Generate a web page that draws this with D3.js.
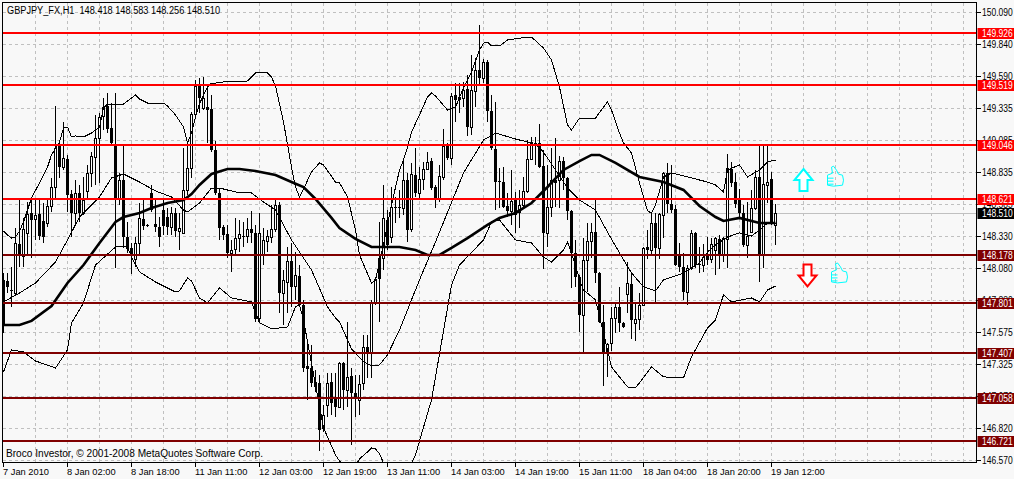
<!DOCTYPE html>
<html>
<head>
<meta charset="utf-8">
<script src="https://cdnjs.cloudflare.com/ajax/libs/d3/7.8.5/d3.min.js"></script>
<style>
  html, body { margin: 0; padding: 0; background: #f8f8f8; overflow: hidden; }
  svg { display: block; }
  text { font-family: "Liberation Sans", sans-serif; white-space: pre; }
  text.price { font-size: 10px; }
</style>
</head>
<body>
<svg id="chart"></svg>
<script>
const titleText = 'GBPJPY_FX,H1  148.418 148.583 148.256 148.510'
const copyrightText = 'Broco Investor, © 2001-2008 MetaQuotes Software Corp.'
const lastPrice = 148.510

const priceTicks = [150.090,149.840,149.590,149.335,149.085,148.835,148.585,148.330,148.080,147.830,147.575,147.325,147.070,146.820,146.570]
const timeLabels = ['7 Jan 2010','8 Jan 02:00','8 Jan 18:00','11 Jan 11:00','12 Jan 03:00','12 Jan 19:00','13 Jan 11:00','14 Jan 03:00','14 Jan 19:00','15 Jan 11:00','18 Jan 04:00','18 Jan 20:00','19 Jan 12:00']

const brightLevels = [149.926,149.519,149.046,148.621]
const darkLevels = [148.178,147.801,147.407,147.058,146.721]

const highs = [148.040,148.040,148.087,148.393,148.621,148.472,148.597,148.629,148.613,148.629,
148.589,148.613,148.786,149.351,149.069,149.226,148.967,148.692,148.770,148.731,
148.794,148.888,148.990,149.281,149.296,149.414,149.453,149.375,149.453,148.825,
149.037,148.440,148.275,148.322,148.589,148.629,148.424,148.731,148.629,148.479,
148.629,148.550,148.558,148.550,148.511,149.021,149.069,149.304,149.556,149.571,
149.579,149.500,149.438,149.076,148.707,148.417,148.417,148.299,148.472,148.456,
148.440,148.472,148.527,148.417,148.511,148.393,148.377,148.574,148.613,148.597,
148.063,148.244,148.275,148.204,148.102,147.828,147.490,147.474,147.278,147.238,
147.003,147.254,147.254,147.254,147.341,147.341,147.655,147.293,147.238,147.238,
147.553,147.553,147.828,148.008,148.440,148.731,148.534,148.715,148.637,148.692,
148.943,148.825,148.904,149.021,148.872,148.912,148.990,148.943,148.731,148.888,
149.171,149.061,149.453,149.532,149.532,149.540,149.595,149.752,149.728,149.988,
149.721,149.713,149.438,149.383,148.864,148.872,148.668,148.849,148.676,148.692,
148.794,149.084,149.108,149.108,149.210,149.006,148.888,149.021,149.100,148.959,
148.951,148.794,148.534,148.299,148.024,148.314,148.432,148.432,148.613,148.048,
147.788,147.490,147.773,147.812,147.930,147.655,148.126,148.040,147.804,147.883,
148.244,148.377,148.511,148.511,148.511,148.833,148.904,148.888,148.574,148.275,
148.197,148.102,148.377,148.361,148.244,148.267,148.322,148.314,148.322,148.338,
148.322,148.974,148.912,148.825,148.700,148.574,148.597,148.692,148.849,149.045,
149.045,149.045,148.833,148.583]

const opens = [147.985,147.977,147.906,147.882,148.267,148.173,148.354,148.511,148.464,148.503,
148.448,148.432,148.566,148.715,149.045,148.872,148.935,148.660,148.511,148.668,
148.511,148.684,148.825,148.951,149.100,149.273,149.351,149.179,149.053,148.629,
148.770,148.322,148.236,148.150,148.275,148.464,148.417,148.668,148.424,148.401,
148.534,148.479,148.401,148.511,148.369,148.354,148.692,148.864,149.288,149.516,
149.336,149.343,149.328,149.006,148.668,148.401,148.346,148.197,148.228,148.314,
148.330,148.330,148.385,148.354,147.686,148.189,148.291,148.322,148.385,148.574,
147.882,147.969,148.134,147.938,148.016,147.788,147.309,147.293,147.183,147.176,
146.822,147.003,147.183,147.058,146.987,147.333,147.121,147.231,147.097,147.042,
147.176,147.458,147.411,147.804,148.158,148.158,148.456,148.322,148.558,148.558,
148.550,148.770,148.385,148.809,148.668,148.778,148.857,148.919,148.715,148.629,
148.794,149.053,148.943,149.438,149.422,149.414,149.485,149.186,149.469,149.634,
149.571,149.697,149.312,149.014,148.762,148.754,148.566,148.527,148.613,148.519,
148.574,148.684,148.935,149.061,149.061,148.880,148.354,148.558,148.770,148.770,
148.919,148.786,148.527,148.197,148.008,147.710,148.142,148.291,148.361,148.040,
147.655,147.411,147.490,147.686,147.773,147.647,147.875,147.953,147.647,147.678,
147.788,148.244,148.220,148.432,148.236,148.495,148.825,148.581,148.542,148.173,
148.087,147.890,148.079,148.354,148.110,148.102,148.181,148.150,148.220,148.307,
148.189,148.307,148.857,148.754,148.629,148.511,148.260,148.361,148.550,148.794,
148.181,148.731,148.778,148.418]

const closes = [147.631,147.930,147.902,148.275,148.173,148.385,148.503,148.456,148.495,148.330,
148.322,148.566,148.715,149.021,148.872,148.943,148.652,148.511,148.668,148.511,
148.613,148.825,148.959,149.100,149.265,149.343,149.171,149.061,148.629,148.770,
148.322,148.228,148.173,148.275,148.472,148.409,148.409,148.534,148.401,148.322,
148.409,148.401,148.511,148.369,148.393,148.692,148.864,149.288,149.508,149.414,
149.414,149.320,149.006,148.668,148.393,148.338,148.197,148.220,148.314,148.346,
148.322,148.385,148.354,147.678,148.354,148.299,148.330,148.385,148.574,147.882,
147.985,148.134,147.930,148.024,147.788,147.293,147.286,147.176,147.144,146.807,
146.924,147.176,147.019,146.987,147.333,147.121,147.223,147.097,147.050,147.168,
147.458,147.411,147.804,147.993,147.993,148.472,148.260,148.558,148.550,148.550,
148.770,148.377,148.817,148.668,148.778,148.857,148.912,148.707,148.629,148.802,
149.037,148.943,149.430,149.399,149.399,149.477,149.186,149.477,149.634,149.571,
149.697,149.312,149.021,148.754,148.754,148.558,148.527,148.605,148.495,148.574,
148.684,148.935,149.069,149.045,148.872,148.354,148.558,148.770,148.747,148.919,
148.786,148.527,148.197,148.008,147.710,148.142,148.291,148.361,148.040,147.655,
147.411,147.482,147.686,147.773,147.647,147.616,147.961,147.670,147.678,147.788,
148.236,148.220,148.432,148.236,148.503,148.825,148.581,148.534,148.102,148.087,
147.890,148.079,148.354,148.102,148.102,148.165,148.142,148.267,148.314,148.181,
148.314,148.864,148.747,148.581,148.511,148.260,148.330,148.550,148.794,148.181,
148.739,148.754,148.432,148.510]

const lows = [147.568,147.882,147.773,147.867,148.087,148.087,148.181,148.158,148.299,148.299,
148.275,148.401,148.519,148.629,148.786,148.849,148.519,148.322,148.417,148.440,
148.495,148.629,148.715,148.731,148.747,149.163,149.139,149.045,148.079,148.574,
148.236,148.197,148.032,148.087,148.181,148.377,148.401,148.519,148.361,148.244,
148.338,148.338,148.338,148.322,148.220,148.346,148.652,148.786,149.257,149.296,
149.320,149.061,148.990,148.652,148.299,148.299,148.158,148.048,148.181,148.204,
148.244,148.275,148.275,147.655,147.655,148.102,148.204,148.275,148.361,147.725,
147.631,147.725,147.773,147.828,147.773,147.262,147.042,147.144,147.105,146.641,
146.791,146.908,146.924,146.908,146.979,146.964,146.987,146.689,146.908,146.924,
147.121,147.215,147.215,147.788,147.655,148.063,148.220,148.275,148.432,148.472,
148.495,148.283,148.361,148.637,148.629,148.692,148.849,148.692,148.550,148.597,
148.770,148.927,148.888,149.226,149.296,149.343,149.116,149.124,149.343,149.516,
149.532,149.226,149.006,148.534,148.550,148.550,148.479,148.417,148.354,148.393,
148.558,148.668,148.927,148.888,148.864,148.071,148.244,148.479,148.558,148.550,
148.692,148.456,147.922,147.930,147.576,147.411,147.890,148.158,147.961,147.647,
147.152,147.223,147.427,147.568,147.576,147.608,147.725,147.521,147.505,147.592,
147.780,148.150,148.189,147.804,148.150,148.314,148.511,148.511,148.095,148.048,
147.828,147.788,148.063,148.079,148.040,148.048,148.102,148.118,148.024,148.071,
148.126,148.079,148.715,148.550,148.472,148.244,148.158,148.354,148.534,147.969,
148.079,148.589,148.417,148.256]

const upperBars = [0,1,2,3,4,5,6,7,9,11,12,14,15,16,17,18,20,22,24,25,26,28,30,32,33,34,36,40,41,43,45,46,47,48,49,50,51,52,53,55,61,63,66,67,68,70,72,73,74,75,77,79,80,83,84,86,88,89,92,93,95,97,99,100,101,102,104,106,107,108,111,113,115,117,119,120,121,122,124,126,131,132,135,137,139,141,142,144,148,151,152,154,155,157,159,160,161,162,163,165,167,171,176,178,180,181,184,186,189,191,193]
const upperValues = [148.369,148.338,148.314,148.322,148.369,148.440,148.534,148.629,148.747,148.872,148.967,149.069,149.179,149.186,149.108,149.116,149.108,149.139,149.186,149.336,149.367,149.367,149.367,149.414,149.438,149.406,149.375,149.375,149.351,149.281,149.186,149.061,149.139,149.265,149.367,149.438,149.500,149.532,149.532,149.540,149.548,149.611,149.611,149.579,149.508,149.226,148.872,148.715,148.637,148.699,148.833,148.904,148.888,148.754,148.747,148.637,148.377,148.181,147.961,147.985,148.260,148.574,148.849,148.927,149.029,149.147,149.281,149.422,149.453,149.430,149.320,149.343,149.493,149.618,149.791,149.846,149.854,149.823,149.823,149.870,149.893,149.893,149.807,149.713,149.500,149.202,149.163,149.257,149.257,149.383,149.320,149.139,149.061,148.982,148.747,148.637,148.527,148.511,148.574,148.794,148.825,148.794,148.754,148.731,148.676,148.849,148.888,148.794,148.849,148.912,148.927]

const middleBars = [0,4,8,13,16,19,24,27,30,34,38,42,45,46,49,52,54,58,62,65,68,72,77,81,83,84,87,90,92,94,96,99,102,104,108,115,120,123,128,131,134,136,141,144,148,151,154,157,160,163,165,168,170,174,176,178,181,184,187,189,191,193]
const middleValues = [147.812,147.882,147.961,148.126,148.299,148.479,148.637,148.786,148.817,148.754,148.684,148.637,148.534,148.519,148.589,148.707,148.707,148.676,148.668,148.597,148.534,148.299,148.063,147.773,147.686,147.655,147.443,147.341,147.309,147.317,147.396,147.592,147.828,147.985,148.283,148.825,149.084,149.139,149.092,149.069,149.029,148.943,148.707,148.613,148.534,148.361,148.197,148.040,147.930,147.898,147.985,148.016,148.040,148.118,148.204,148.260,148.322,148.354,148.330,148.377,148.432,148.432]

const lowerBars = [0,2,5,8,13,16,17,20,23,28,31,32,34,38,43,44,46,47,49,51,54,57,62,64,67,71,73,74,75,80,83,84,87,88,89,91,92,93,94,95,96,100,103,104,107,112,114,120,122,124,128,132,135,137,140,141,143,144,145,148,150,152,156,158,162,165,170,172,176,178,180,182,187,189,191,193]
const lowerValues = [147.262,147.435,147.419,147.348,147.293,147.435,147.647,147.804,148.102,148.244,148.244,148.165,148.048,147.969,147.890,147.898,148.000,147.977,147.843,147.804,147.922,147.843,147.812,147.647,147.600,147.615,147.773,147.788,147.670,146.822,146.610,146.563,146.492,146.524,146.579,146.634,146.665,146.657,146.618,146.547,146.492,146.414,146.610,146.720,147.042,147.945,148.102,148.299,148.440,148.456,148.299,148.275,148.165,148.126,148.220,148.283,148.102,147.985,147.906,147.828,147.568,147.301,147.144,147.136,147.301,147.223,147.215,147.380,147.608,147.670,147.867,147.812,147.843,147.812,147.906,147.937]

const maBars = [0,4,7,12,16,20,24,28,30,34,37,41,45,47,49,52,56,59,63,68,72,75,78,82,84,88,92,99,103,106,109,112,116,121,124,128,132,136,140,144,147,149,153,159,165,170,174,178,180,184,189,193]
const maValues = [147.631,147.631,147.663,147.780,147.961,148.102,148.275,148.440,148.479,148.511,148.550,148.589,148.613,148.660,148.731,148.817,148.857,148.857,148.841,148.809,148.754,148.715,148.621,148.472,148.393,148.307,148.244,148.244,148.220,148.181,148.181,148.236,148.314,148.417,148.472,148.511,148.589,148.715,148.849,148.919,148.967,148.967,148.904,148.794,148.754,148.692,148.566,148.479,148.448,148.472,148.432,148.432]

const width = 1014, height = 479
const margin = {top: 2.5, right: 37.5, bottom: 16.5, left: 2.5}
const plotRight = width - margin.right
const plotBottom = height - margin.bottom

const barIdx = d3.range(highs.length)

const x = d3.scaleLinear().domain([0, 193]).range([3.5, 775.5])
const y = d3.scaleLinear().domain([150.09, 146.57]).range([12, 460])
const snap = v => Math.round(y(v)) + 0.5

const svg = d3.select('#chart')
  .attr('width', width)
  .attr('height', height)
  .style('background', '#f8f8f8')

svg.append('defs').append('clipPath').attr('id', 'plot')
  .append('rect')
  .attr('x', margin.left).attr('y', margin.top)
  .attr('width', plotRight - margin.left).attr('height', plotBottom - margin.top)

// grid
const gridG = svg.append('g')
  .attr('stroke', '#c0c0c0')
  .attr('stroke-dasharray', '3,3')
  .attr('shape-rendering', 'crispEdges')

gridG.selectAll('line.h')
  .data(priceTicks)
  .join('line')
  .attr('class', 'h')
  .attr('x1', margin.left).attr('x2', plotRight)
  .attr('y1', snap).attr('y2', snap)

gridG.selectAll('line.v')
  .data(d3.range(8, 241, 8))
  .join('line')
  .attr('class', 'v')
  .attr('x1', d => x(d)).attr('x2', d => x(d))
  .attr('y1', margin.top).attr('y2', plotBottom)

// last price line
svg.append('line')
  .attr('x1', margin.left).attr('x2', plotRight)
  .attr('y1', snap(lastPrice)).attr('y2', snap(lastPrice))
  .attr('stroke', '#c0c0c0')
  .attr('shape-rendering', 'crispEdges')

const plot = svg.append('g').attr('clip-path', 'url(#plot)')

// wicks
plot.append('g')
  .attr('fill', '#000')
  .attr('shape-rendering', 'crispEdges')
  .selectAll('rect')
  .data(barIdx)
  .join('rect')
  .attr('x', i => x(i) - 0.5)
  .attr('width', 1)
  .attr('y', i => y(highs[i]))
  .attr('height', i => y(lows[i]) - y(highs[i]))

// bodies, black when it closed down
plot.append('g')
  .attr('shape-rendering', 'crispEdges')
  .selectAll('rect')
  .data(barIdx)
  .join('rect')
  .each(function(i) {
    const up = closes[i] > opens[i]
    const top = Math.round(y(Math.max(opens[i], closes[i])))
    const bot = Math.round(y(Math.min(opens[i], closes[i])))
    d3.select(this)
      .attr('x', up ? x(i) - 1 : x(i) - 1.5)
      .attr('width', up ? 2 : 3)
      .attr('y', up ? top + 0.5 : top)
      .attr('height', Math.max(bot - top, 1))
      .attr('fill', up ? '#fff' : '#000')
      .attr('stroke', up ? '#000' : 'none')
  })

// thin lines and the thick average
const lineOf = (bars, values) => d3.line()
  .x((d, i) => x(bars[i]))
  .y(d => y(d))(values)

plot.selectAll('path.band')
  .data([[upperBars, upperValues], [middleBars, middleValues], [lowerBars, lowerValues]])
  .join('path')
  .attr('class', 'band')
  .attr('d', d => lineOf(d[0], d[1]))
  .attr('fill', 'none')
  .attr('stroke', '#000')
  .attr('stroke-width', 1)
  .attr('shape-rendering', 'crispEdges')

plot.append('path')
  .attr('d', lineOf(maBars, maValues))
  .attr('fill', 'none')
  .attr('stroke', '#000')
  .attr('stroke-width', 2.6)

// support and resistance levels
const levelRows = brightLevels.map(v => ({v, c: '#ff0000'}))
  .concat(darkLevels.map(v => ({v, c: '#800000'})))

svg.append('g')
  .attr('shape-rendering', 'crispEdges')
  .selectAll('line')
  .data(levelRows)
  .join('line')
  .attr('x1', margin.left).attr('x2', plotRight)
  .attr('y1', d => Math.round(y(d.v))).attr('y2', d => Math.round(y(d.v)))
  .attr('stroke', d => d.c)
  .attr('stroke-width', 2)

// arrows and hands
const upArrow = 'M0,-11 L9,0 L4,0 L4,11 L-4,11 L-4,0 L-9,0 Z'
const downArrow = 'M0,11 L9,0 L4,0 L4,-11 L-4,-11 L-4,0 L-9,0 Z'
const hand = 'M-8,-1 L-3,-3 L-4,-9 L-2,-10 L1,-6 L3,-2 L7,-1 L8,4 L7,9 L-2,10 L-8,9 Z M-8,2 H-2 M-8,5 H-2 M-8,8 H-2'

const addMark = (bar, price, d, stroke, fill, w) => {
  svg.append('path')
    .attr('transform', 'translate(' + x(bar) + ',' + y(price) + ')')
    .attr('d', d)
    .attr('fill', fill)
    .attr('stroke', stroke)
    .attr('stroke-width', w)
}
addMark(200, 148.77, upArrow, '#00ffff', '#fff', 2)
addMark(201, 148.02, downArrow, '#ff0000', '#fff', 2)
addMark(208, 148.80, hand, '#00ffff', 'none', 1)
addMark(209, 148.04, hand, '#00ffff', 'none', 1)

// frame
svg.append('path')
  .attr('d', `M${margin.left},${plotBottom} V${margin.top} H${plotRight} V${plotBottom} Z`)
  .attr('fill', 'none')
  .attr('stroke', '#000')
  .attr('shape-rendering', 'crispEdges')

// price axis, squeezed so seven characters fit the strip
const priceAxis = svg.append('g')
priceAxis.selectAll('line')
  .data(priceTicks)
  .join('line')
  .attr('x1', plotRight).attr('x2', plotRight + 4)
  .attr('y1', snap).attr('y2', snap)
  .attr('stroke', '#000')
  .attr('shape-rendering', 'crispEdges')
priceAxis.selectAll('text')
  .data(priceTicks)
  .join('text')
  .attr('class', 'price')
  .attr('transform', d => 'translate(982,' + (snap(d) + 3.5) + ') scale(0.85,1)')
  .attr('fill', '#000')
  .text(d => d.toFixed(3))

// labels on the price axis
const tagRows = levelRows.concat([{v: lastPrice, c: '#000'}])
const tags = svg.append('g')
tags.selectAll('rect')
  .data(tagRows)
  .join('rect')
  .attr('x', plotRight + 1)
  .attr('y', d => Math.round(y(d.v)) - 5)
  .attr('width', width - plotRight)
  .attr('height', 11)
  .attr('fill', d => d.c)
tags.selectAll('text')
  .data(tagRows)
  .join('text')
  .attr('class', 'price')
  .attr('transform', d => 'translate(982,' + (Math.round(y(d.v)) + 4) + ') scale(0.85,1)')
  .attr('fill', '#fff')
  .text(d => d.v.toFixed(3))

// time axis
const timeAxis = svg.append('g')
timeAxis.selectAll('line')
  .data(timeLabels)
  .join('line')
  .attr('x1', (d, i) => x(i * 16)).attr('x2', (d, i) => x(i * 16))
  .attr('y1', plotBottom).attr('y2', plotBottom + 4)
  .attr('stroke', '#000')
  .attr('shape-rendering', 'crispEdges')
timeAxis.selectAll('text')
  .data(timeLabels)
  .join('text')
  .attr('x', (d, i) => x(i * 16) - 0.5)
  .attr('y', 475)
  .attr('font-size', 9.3)
  .attr('fill', '#000')
  .text(d => d)

svg.append('text')
  .attr('x', 7).attr('y', 14)
  .attr('font-size', 10)
  .attr('textLength', 213)
  .attr('lengthAdjust', 'spacingAndGlyphs')
  .attr('fill', '#000')
  .text(titleText)

svg.append('text')
  .attr('x', 6).attr('y', 457)
  .attr('font-size', 10.5)
  .attr('textLength', 257)
  .attr('lengthAdjust', 'spacingAndGlyphs')
  .attr('fill', '#000')
  .text(copyrightText)
</script>
</body>
</html>
